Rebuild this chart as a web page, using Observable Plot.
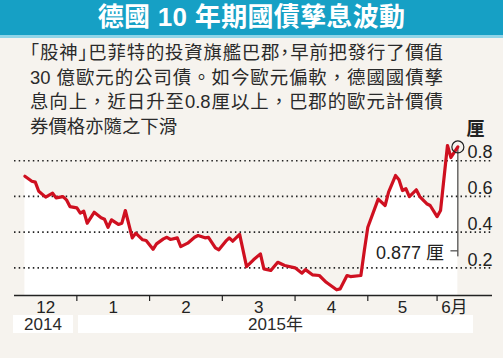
<!DOCTYPE html>
<html>
<head>
<meta charset="utf-8">
<script src="https://cdn.jsdelivr.net/npm/d3@7"></script>
<script src="https://cdn.jsdelivr.net/npm/@observablehq/plot@0.6"></script>
<style>
  html, body { margin: 0; padding: 0; }
  body { width: 503px; height: 358px; overflow: hidden; background: #f6f3ee; position: relative;
         font-family: "Liberation Sans", "Noto Sans CJK TC", sans-serif; color: #2a2a2a; }
  #title { height: 35px; background: #16a0c5; color: #fff; text-align: center;
           font: 700 26px/35px "Liberation Sans", "Noto Sans CJK TC", sans-serif; letter-spacing: 0.3px; }
  #stripe { height: 3px; background: #8fd5e8; }
  #para { position: absolute; left: 30px; top: 41px; width: 413px; font-size: 18.4px; line-height: 24.5px; }
  #para div { white-space: nowrap; }
  #para .j { text-align: justify; text-align-last: justify; }
  #para .h { font-feature-settings: "halt"; }
  #chart { position: absolute; left: 0; top: 115px; }
  #years { position: absolute; left: 0; top: 315px; height: 18px; width: 503px; }
  #years div { position: absolute; top: 0; height: 18px; background: #fff; text-align: center;
               font-size: 17px; line-height: 19px; }
</style>
</head>
<body>
<div id="title"></div>
<div id="stripe"></div>
<div id="para"></div>
<div id="chart"></div>
<div id="years"></div>
<script>
// ---- data ----
const titleText = "德國 10 年期國債孳息波動";
const paraLines = [
  "「股神」巴菲特的投資旗艦巴郡，早前把發行了價值",
  "30 億歐元的公司債。如今歐元偏軟，德國國債孳",
  "息向上，近日升至0.8厘以上，巴郡的歐元計價債",
  "券價格亦隨之下滑"
];
// trading-day index (0 = early Dec 2014) and 10-year Bund yield (%)
const days = [0,2,3,4,6,8,9,11,12,13,15,16,17,18,20,22,23,24,25,27,28,29,31,32,34,35,37,38,40,41,42,44,45,47,49,50,52,53,55,56,58,59,60,62,64,66,68,69,71,73,75,78,80,81,83,85,87,90,91,93,94,97,98,99,102,104,105,107,108,109,110,111,113,114,116,117,119,120,122,123,125];
const yields = [0.713,0.685,0.680,0.629,0.596,0.618,0.592,0.599,0.581,0.543,0.536,0.506,0.517,0.450,0.511,0.480,0.472,0.427,0.469,0.443,0.450,0.521,0.368,0.394,0.357,0.353,0.304,0.334,0.362,0.371,0.359,0.368,0.319,0.338,0.371,0.381,0.368,0.371,0.312,0.301,0.349,0.368,0.349,0.387,0.207,0.245,0.278,0.194,0.185,0.231,0.213,0.200,0.170,0.190,0.161,0.157,0.119,0.077,0.082,0.157,0.151,0.157,0.297,0.427,0.585,0.549,0.624,0.717,0.693,0.633,0.643,0.599,0.637,0.599,0.559,0.549,0.487,0.521,0.885,0.818,0.877];
const monthTicks = [15, 36, 57, 78, 99, 119];           // month boundaries (trading-day index)
const monthLabelPos = [6, 25.5, 46.5, 67.5, 88.5, 109, 124];
const monthLabels = ["12", "1", "2", "3", "4", "5", "6月"];
const yTicks = [0.2, 0.4, 0.6, 0.8];
const yUnit = "厘";
const years = [{label: "2014", left: 13, width: 60}, {label: "2015年", left: 78, width: 395}];
const lastLabel = "0.877 厘";
const calloutY = 0.295;
const yMin = 0.045, yMax = 0.9;

// ---- header ----
document.getElementById("title").textContent = titleText;
const para = document.getElementById("para");
paraLines.forEach((t, i) => {
  const d = document.createElement("div");
  if (i < paraLines.length - 1) d.className = "j";
  if (i === 0) {
    // compress the corner brackets and comma in the first line
    for (const ch of t) {
      if ("「」，".includes(ch)) {
        const s = document.createElement("span");
        s.className = "h"; s.textContent = ch; d.appendChild(s);
      } else d.appendChild(document.createTextNode(ch));
    }
  } else d.textContent = t;
  para.appendChild(d);
});
const yrs = document.getElementById("years");
years.forEach(y => {
  const d = document.createElement("div");
  d.style.left = y.left + "px"; d.style.width = y.width + "px";
  d.textContent = y.label;
  yrs.appendChild(d);
});

// ---- chart ----
const data = days.map((d, i) => ({d, v: yields[i]}));
const last = data[data.length - 1];
const red = "#cf1020";

const chart = Plot.plot({
  width: 503,
  height: 199,
  marginTop: 27.35,
  marginBottom: 19,
  marginLeft: 14,
  marginRight: 11,
  style: {fontFamily: '"Liberation Sans", "Noto Sans CJK TC", sans-serif', fontSize: "17px", color: "#222", background: "transparent", overflow: "visible"},
  x: {domain: [-3, 135], axis: null},
  y: {domain: [yMin, yMax], axis: null},
  marks: [
    Plot.areaY(data, {x: "d", y1: yMin, y2: "v", fill: "#ffffff"}),
    Plot.ruleY(yTicks, {stroke: "#222", strokeWidth: 1.6, strokeDasharray: "1.5 3.2"}),
    Plot.text(yTicks, {y: d => d, text: d => d.toFixed(1), frameAnchor: "right", textAnchor: "end", lineAnchor: "middle", dy: -8, fontSize: 18, fill: "#222"}),
    Plot.text([yUnit], {frameAnchor: "top-right", textAnchor: "end", lineAnchor: "middle", dx: -8, dy: -14, fontSize: 18, fontWeight: "bold", fill: "#222"}),
    Plot.ruleY([yMin], {stroke: "#222", strokeWidth: 1.5}),
    Plot.axisX({ticks: monthTicks, tickSize: 6, tickFormat: () => "", label: null, stroke: "#222", strokeWidth: 1.2}),
    Plot.text(monthLabels, {x: (d, i) => monthLabelPos[i], text: d => d, frameAnchor: "bottom", lineAnchor: "middle", dy: 12, fontSize: 17, fill: "#222"}),
    Plot.ruleX([last], {x: "d", y1: calloutY, y2: "v", insetTop: 6, stroke: "#222", strokeWidth: 1}),
    Plot.ruleY([calloutY], {x1: last.d - 2, x2: last.d, stroke: "#222", strokeWidth: 1}),
    Plot.text([lastLabel], {x: last.d - 2, y: calloutY, text: d => d, textAnchor: "end", lineAnchor: "middle", dx: -7, dy: 2, fontSize: 18, fill: "#222"}),
    Plot.line(data, {x: "d", y: "v", stroke: red, strokeWidth: 3.2, strokeLinejoin: "round", strokeLinecap: "round"}),
    Plot.dot([last], {x: "d", y: "v", r: 6, stroke: "#222", strokeWidth: 1.2, fill: "none"})
  ]
});
document.getElementById("chart").appendChild(chart);
</script>
</body>
</html>
